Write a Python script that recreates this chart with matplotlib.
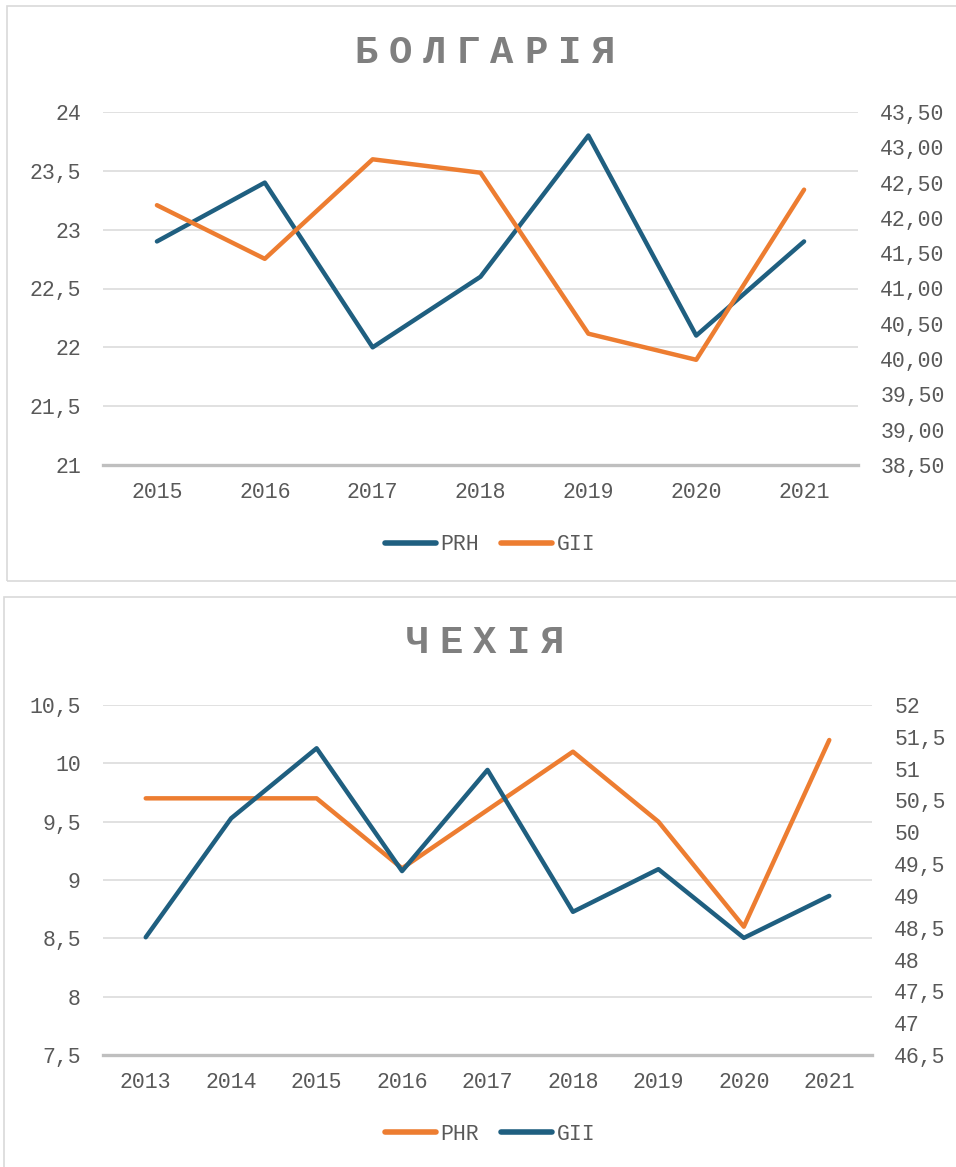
import matplotlib
matplotlib.use("Agg")
import matplotlib.pyplot as plt
from matplotlib.ticker import FuncFormatter, MultipleLocator
from matplotlib.patches import Rectangle
from matplotlib.lines import Line2D

# ---------------- data ----------------
bg_years = ["2015", "2016", "2017", "2018", "2019", "2020", "2021"]
bg_prh = [22.9, 23.4, 22.0, 22.6, 23.8, 22.1, 22.9]
bg_gii = [42.18, 41.42, 42.83, 42.64, 40.36, 39.99, 42.40]

cz_years = ["2013", "2014", "2015", "2016", "2017", "2018", "2019", "2020", "2021"]
cz_phr = [9.7, 9.7, 9.7, 9.1, 9.6, 10.1, 9.5, 8.6, 10.2]
cz_gii = [48.35, 50.22, 51.32, 49.39, 50.98, 48.75, 49.42, 48.34, 49.0]

BLUE = "#1F5F80"
ORANGE = "#ED7D31"
TXT = "#595959"
GRID = "#D9D9D9"
AXLINE = "#BFBFBF"
FONT = "Liberation Mono"

W, H = 956, 1167
fig = plt.figure(figsize=(W / 100, H / 100), dpi=100)


def fx(x):
    return x / W


def fy(y):
    return 1 - y / H


# chart borders
fig.patches.append(Rectangle((fx(7), fy(581)), fx(1000 - 7), fy(6) - fy(581),
                             transform=fig.transFigure, fill=False,
                             edgecolor=GRID, lw=1.2))
fig.patches.append(Rectangle((fx(4), fy(1200)), fx(1000 - 4), fy(597) - fy(1200),
                             transform=fig.transFigure, fill=False,
                             edgecolor=GRID, lw=1.2))


def spaced_title(text, xc, yc, pitch=34):
    n = len(text)
    x0 = xc - pitch * (n - 1) / 2
    for i, ch in enumerate(text):
        fig.text(fx(x0 + i * pitch), fy(yc), ch, ha="center", va="center",
                 fontsize=28, fontweight="bold", color="#7F7F7F", family=FONT)


def gen_fmt(v, pos):
    return f"{v:g}".replace(".", ",")


def two_fmt(v, pos):
    return f"{v:.2f}".replace(".", ",")


def make_chart(rect, cats, left_vals, right_vals, left_color, right_color,
               ylim_l, ylim_r, fmt_r, step_r):
    ax = fig.add_axes(rect)
    n = len(cats)
    xs = list(range(n))
    ax.set_xlim(-0.5, n - 0.5)
    ax.set_ylim(*ylim_l)
    ax.yaxis.set_major_locator(MultipleLocator(0.5))
    ax.yaxis.set_major_formatter(FuncFormatter(gen_fmt))
    ax.set_xticks(xs)
    ax.set_xticklabels(cats)
    for s in ["top", "left", "right"]:
        ax.spines[s].set_visible(False)
    ax.spines["bottom"].set_color(AXLINE)
    ax.spines["bottom"].set_linewidth(2.4)
    ax.spines["bottom"].set_zorder(3)
    ax.grid(axis="y", color=GRID, lw=1.1)
    ax.set_axisbelow(True)
    ax.tick_params(axis="both", length=0, labelsize=15.5, colors=TXT)
    ax.tick_params(axis="y", pad=16)
    ax.tick_params(axis="x", pad=12)
    ax.plot(xs, left_vals, color=left_color, lw=3.2, solid_capstyle="round",
            solid_joinstyle="round", zorder=4)

    ax2 = ax.twinx()
    ax2.set_ylim(*ylim_r)
    ax2.yaxis.set_major_locator(MultipleLocator(step_r))
    ax2.yaxis.set_major_formatter(FuncFormatter(fmt_r))
    for s in ax2.spines.values():
        s.set_visible(False)
    ax2.tick_params(axis="y", length=0, labelsize=15.5, colors=TXT, pad=16)
    ax2.plot(xs, right_vals, color=right_color, lw=3.2, solid_capstyle="round",
             solid_joinstyle="round", zorder=5)
    for a in (ax, ax2):
        for lab in a.get_xticklabels() + a.get_yticklabels():
            lab.set_family(FONT)
    return ax, ax2


# ---------- top chart: Bulgaria ----------
spaced_title("БОЛГАРІЯ", 485, 53)
make_chart([fx(103), fy(465), fx(858) - fx(103), fy(112) - fy(465)],
           bg_years, bg_prh, bg_gii, BLUE, ORANGE,
           (21, 24), (38.5, 43.5), two_fmt, 0.5)
h1 = [Line2D([], [], color=BLUE, lw=4, solid_capstyle="round"),
      Line2D([], [], color=ORANGE, lw=4, solid_capstyle="round")]
leg = fig.legend(h1, ["PRH", "GII"], loc="center",
                 bbox_to_anchor=(fx(490), fy(545)), ncol=2, frameon=False,
                 prop={"family": FONT, "size": 15.5}, handlelength=2.4,
                 handletextpad=0.2, columnspacing=1.0)
for t in leg.get_texts():
    t.set_color(TXT)

# ---------- bottom chart: Czechia ----------
spaced_title("ЧЕХІЯ", 485, 643)
make_chart([fx(103), fy(1055), fx(872) - fx(103), fy(705) - fy(1055)],
           cz_years, cz_phr, cz_gii, ORANGE, BLUE,
           (7.5, 10.5), (46.5, 52), gen_fmt, 0.5)
h2 = [Line2D([], [], color=ORANGE, lw=4, solid_capstyle="round"),
      Line2D([], [], color=BLUE, lw=4, solid_capstyle="round")]
leg2 = fig.legend(h2, ["PHR", "GII"], loc="center",
                  bbox_to_anchor=(fx(490), fy(1134)), ncol=2, frameon=False,
                  prop={"family": FONT, "size": 15.5}, handlelength=2.4,
                  handletextpad=0.2, columnspacing=1.0)
for t in leg2.get_texts():
    t.set_color(TXT)

fig.savefig("out.png", dpi=100, facecolor="white")
